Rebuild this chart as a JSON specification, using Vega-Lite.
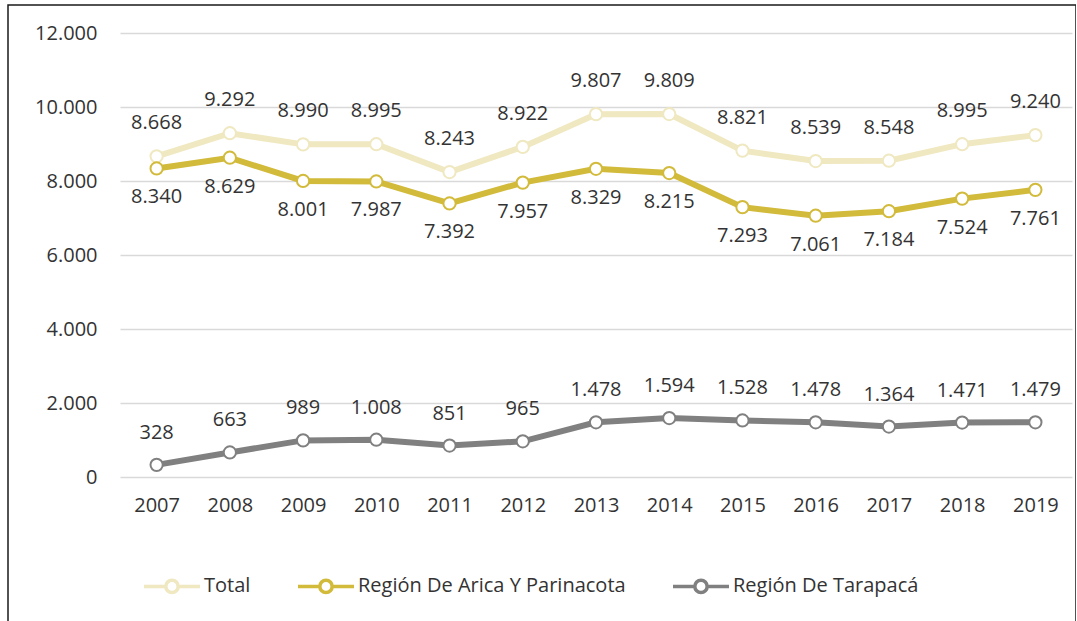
{
  "$schema": "https://vega.github.io/schema/vega-lite/v6.json",
  "width": 1068,
  "height": 650,
  "autosize": {"type": "none"},
  "padding": {"left": 8, "top": 5, "right": 0, "bottom": 0},
  "config": {
    "locale": {"number": {"decimal": ",", "thousands": ".", "grouping": [3], "currency": ["$", ""]}},
    "view": {"stroke": "#1a1a1a", "strokeWidth": 1.5},
    "font": "Open Sans",
    "axis": {"labelFont": "Open Sans", "labelFontSize": 20, "labelColor": "#333333", "ticks": false, "domain": false, "title": null}
  },
  "data": {
    "values": [
      {"year": "2007", "serie": "Total", "value": 8668},
      {"year": "2008", "serie": "Total", "value": 9292},
      {"year": "2009", "serie": "Total", "value": 8990},
      {"year": "2010", "serie": "Total", "value": 8995},
      {"year": "2011", "serie": "Total", "value": 8243},
      {"year": "2012", "serie": "Total", "value": 8922},
      {"year": "2013", "serie": "Total", "value": 9807},
      {"year": "2014", "serie": "Total", "value": 9809},
      {"year": "2015", "serie": "Total", "value": 8821},
      {"year": "2016", "serie": "Total", "value": 8539},
      {"year": "2017", "serie": "Total", "value": 8548},
      {"year": "2018", "serie": "Total", "value": 8995},
      {"year": "2019", "serie": "Total", "value": 9240},
      {"year": "2007", "serie": "Región De Arica Y Parinacota", "value": 8340},
      {"year": "2008", "serie": "Región De Arica Y Parinacota", "value": 8629},
      {"year": "2009", "serie": "Región De Arica Y Parinacota", "value": 8001},
      {"year": "2010", "serie": "Región De Arica Y Parinacota", "value": 7987},
      {"year": "2011", "serie": "Región De Arica Y Parinacota", "value": 7392},
      {"year": "2012", "serie": "Región De Arica Y Parinacota", "value": 7957},
      {"year": "2013", "serie": "Región De Arica Y Parinacota", "value": 8329},
      {"year": "2014", "serie": "Región De Arica Y Parinacota", "value": 8215},
      {"year": "2015", "serie": "Región De Arica Y Parinacota", "value": 7293},
      {"year": "2016", "serie": "Región De Arica Y Parinacota", "value": 7061},
      {"year": "2017", "serie": "Región De Arica Y Parinacota", "value": 7184},
      {"year": "2018", "serie": "Región De Arica Y Parinacota", "value": 7524},
      {"year": "2019", "serie": "Región De Arica Y Parinacota", "value": 7761},
      {"year": "2007", "serie": "Región De Tarapacá", "value": 328},
      {"year": "2008", "serie": "Región De Tarapacá", "value": 663},
      {"year": "2009", "serie": "Región De Tarapacá", "value": 989},
      {"year": "2010", "serie": "Región De Tarapacá", "value": 1008},
      {"year": "2011", "serie": "Región De Tarapacá", "value": 851},
      {"year": "2012", "serie": "Región De Tarapacá", "value": 965},
      {"year": "2013", "serie": "Región De Tarapacá", "value": 1478},
      {"year": "2014", "serie": "Región De Tarapacá", "value": 1594},
      {"year": "2015", "serie": "Región De Tarapacá", "value": 1528},
      {"year": "2016", "serie": "Región De Tarapacá", "value": 1478},
      {"year": "2017", "serie": "Región De Tarapacá", "value": 1364},
      {"year": "2018", "serie": "Región De Tarapacá", "value": 1471},
      {"year": "2019", "serie": "Región De Tarapacá", "value": 1479}
    ]
  },
  "encoding": {
    "x": {
      "field": "year", "type": "ordinal",
      "scale": {"type": "point", "padding": 0.5, "range": [112, 1064]},
      "axis": {"orient": "bottom", "offset": -178, "labelPadding": 18, "labelAngle": 0, "grid": false}
    },
    "y": {
      "field": "value", "type": "quantitative",
      "scale": {"domain": [0, 12000], "range": [472, 28], "nice": false, "zero": true},
      "axis": {"orient": "left", "offset": -112, "labelPadding": 23, "values": [0, 2000, 4000, 6000, 8000, 10000, 12000], "format": ",d", "grid": true, "gridColor": "#d9d9d9", "gridWidth": 1.5}
    },
    "color": {
      "field": "serie", "type": "nominal",
      "scale": {"domain": ["Total", "Región De Arica Y Parinacota", "Región De Tarapacá"], "range": ["#EFE8C0", "#D2BA3A", "#808080"]},
      "legend": {
        "orient": "none", "legendX": 134, "legendY": 551, "direction": "horizontal", "title": null,
        "symbolType": "M-1,0L-0.22,0M-0.22,0A0.22,0.22 0 1,1 0.22,0A0.22,0.22 0 1,1 -0.22,0M0.22,0L1,0",
        "symbolSize": 3136, "symbolStrokeWidth": 3.5, "symbolFillColor": "white",
        "labelFont": "Open Sans", "labelFontSize": 20, "labelColor": "#333333", "labelOffset": 2,
        "labelLimit": 500, "columnPadding": 40, "padding": 0
      }
    }
  },
  "layer": [
    {"mark": {"type": "line", "strokeWidth": 6}},
    {"mark": {"type": "point", "filled": false, "fill": "white", "size": 150, "strokeWidth": 2, "opacity": 1}},
    {
      "transform": [{"filter": "datum.serie === 'Total'"}],
      "mark": {"type": "text", "dy": -33, "fontSize": 20, "font": "Open Sans"},
      "encoding": {"text": {"field": "value", "type": "quantitative", "format": ",d"}, "color": {"value": "#333333"}}
    },
    {
      "transform": [{"filter": "datum.serie === 'Región De Arica Y Parinacota'"}],
      "mark": {"type": "text", "dy": 29, "fontSize": 20, "font": "Open Sans"},
      "encoding": {"text": {"field": "value", "type": "quantitative", "format": ",d"}, "color": {"value": "#333333"}}
    },
    {
      "transform": [{"filter": "datum.serie === 'Región De Tarapacá'"}],
      "mark": {"type": "text", "dy": -32, "fontSize": 20, "font": "Open Sans"},
      "encoding": {"text": {"field": "value", "type": "quantitative", "format": ",d"}, "color": {"value": "#333333"}}
    }
  ]
}
